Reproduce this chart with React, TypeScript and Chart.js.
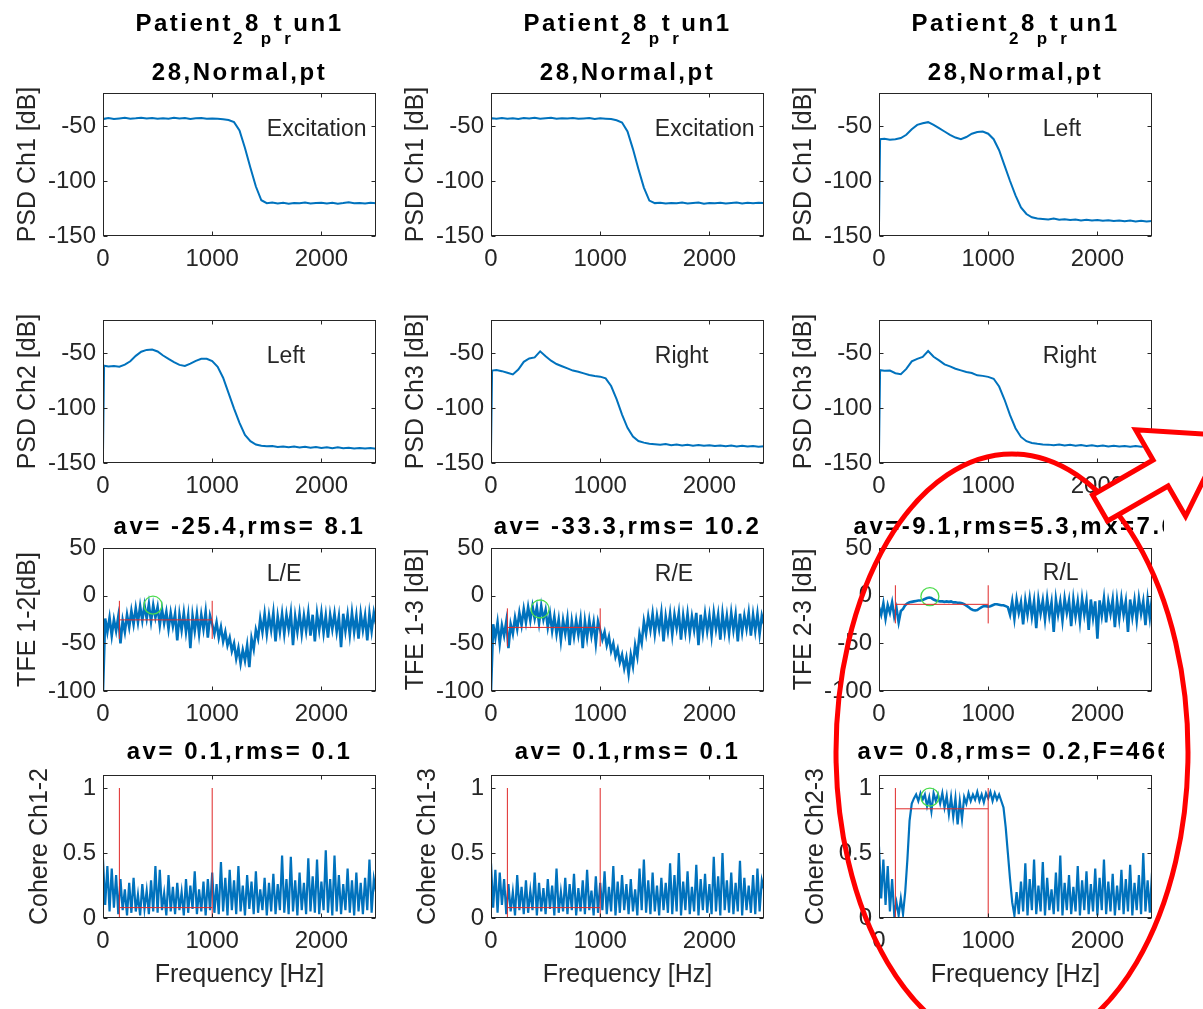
import React, { useEffect, useRef } from "react";
import { Chart, registerables } from "chart.js";

Chart.register(...registerables);

// ---------------- data ----------------
const PSD_FREQ = [0, 10, 50, 100, 150, 200, 250, 300, 350, 400, 450, 500, 550, 600, 650, 700, 750, 800, 850, 900, 950, 1000,
  1050, 1100, 1150, 1200, 1250, 1300, 1350, 1400, 1450, 1500,
  1550, 1600, 1650, 1700, 1750, 1800, 1850, 1900, 1950, 2000, 2050, 2100, 2150, 2200, 2250, 2300, 2350, 2400, 2450, 2500];

const NOISE_FREQ = [0, 20, 40, 60, 80, 100, 120, 140, 160, 180, 200, 220, 240, 260, 280, 300, 320, 340, 360, 380,
  400, 420, 440, 460, 480, 500, 520, 540, 560, 580, 600, 620, 640, 660, 680, 700, 720, 740, 760, 780,
  800, 820, 840, 860, 880, 900, 920, 940, 960, 980, 1000, 1020, 1040, 1060, 1080, 1100, 1120, 1140, 1160, 1180,
  1200, 1220, 1240, 1260, 1280, 1300, 1320, 1340, 1360, 1380, 1400, 1420, 1440, 1460, 1480, 1500, 1520, 1540, 1560, 1580,
  1600, 1620, 1640, 1660, 1680, 1700, 1720, 1740, 1760, 1780, 1800, 1820, 1840, 1860, 1880, 1900, 1920, 1940, 1960, 1980,
  2000, 2020, 2040, 2060, 2080, 2100, 2120, 2140, 2160, 2180, 2200, 2220, 2240, 2260, 2280, 2300, 2320, 2340, 2360, 2380,
  2400, 2420, 2440, 2460, 2480, 2500];

const PSD_EXCITATION_A = [-43, -43.5, -42.8, -43.6, -43.1, -42.6, -43.4, -43.0, -42.4, -43.2, -42.7, -43.5, -42.9, -43.3, -42.5, -43.1, -42.8, -43.6, -43.0, -42.7, -43.4, -43.1,
  -43.5, -43.9, -44.6, -46.5, -54, -70, -88, -105, -117.5, -120.2,
  -119.6, -120.4, -119.8, -120.6, -119.9, -120.3, -119.5, -120.5, -120.0, -119.7, -120.4, -119.8, -120.6, -120.1, -119.4, -120.3, -119.9, -120.5, -119.8, -120.2];

const PSD_EXCITATION_B = [-43.2, -42.9, -43.5, -42.7, -43.3, -42.9, -43.6, -42.8, -43.2, -42.5, -43.4, -43.0, -42.6, -43.5, -42.9, -43.2, -42.7, -43.4, -43.1, -42.8, -43.6, -43.0,
  -43.3, -43.7, -44.8, -46.8, -55, -71, -89, -106, -117.8, -120.1,
  -119.7, -120.5, -119.9, -120.3, -119.6, -120.4, -120.0, -119.5, -120.6, -119.9, -120.2, -119.7, -120.5, -120.0, -119.6, -120.4, -119.8, -120.3, -119.7, -120.1];

const PSD_LEFT_A = [-140, -62, -61.5, -62.5, -62, -61, -58, -53, -49, -47.5, -46.5, -49, -52, -55, -58, -60.5, -62, -60, -57, -55.5, -55, -57,
  -62, -72, -86, -100, -113, -124, -130, -133, -134, -134.5,
  -135, -134.2, -135.3, -134.8, -135.5, -135, -135.8, -135.2, -136, -135.4, -136.2, -135.6, -136.4, -135.9, -136.5, -136, -136.7, -136.2, -136.8, -136.4];

const PSD_LEFT_B = [-140, -61.5, -62.3, -61.8, -62.4, -60.6, -57.5, -52.6, -48.8, -47.2, -46.8, -48.6, -52.3, -55.4, -58.2, -60.8, -61.7, -59.6, -57.2, -55.2, -55.3, -57.4,
  -62.5, -72.5, -86.5, -100.5, -113.5, -124.5, -130.2, -133.2, -134.3, -134.8,
  -134.6, -135.4, -134.9, -135.6, -135.1, -135.9, -135.3, -136.1, -135.5, -136.3, -135.7, -136.5, -135.8, -136.6, -136.1, -136.8, -136.3, -136.9, -136.4, -137];

const PSD_RIGHT_A = [-140, -66, -65.5, -66.5, -68, -69.5, -65, -58, -55, -54, -48.5, -53, -57, -60, -62, -64, -66, -67, -68.5, -70, -71, -71.5,
  -73, -80, -92, -106, -118, -126, -130, -131.5, -132.5, -133,
  -133.5, -132.8, -133.8, -133.2, -134, -133.4, -134.2, -133.6, -134.4, -133.8, -134.6, -134, -134.8, -134.2, -135, -134.4, -135.1, -134.5, -135.2, -134.8];

const PSD_RIGHT_B = [-140, -65.6, -66.2, -66, -68.4, -69.2, -64.5, -57.6, -55.3, -53.6, -48.2, -53.4, -56.7, -60.3, -62.2, -64.3, -65.8, -67.3, -68.2, -70.3, -70.8, -71.7,
  -73.4, -80.5, -92.5, -106.5, -118.4, -126.3, -130.2, -131.8, -132.6, -133.2,
  -133.3, -133.9, -133.1, -134.1, -133.5, -134.3, -133.7, -134.5, -133.9, -134.7, -134.1, -134.9, -134.3, -135.1, -134.5, -135.2, -134.6, -135.3, -134.7, -135];

const TFE_12 = [-100, -24, -38, -23, -42, -25, -37, -22, -50, -26,
  -38, -20, -33, -16, -30, -13, -28, -11, -26, -10,
  -24, -9, -27, -10, -23, -12, -31, -14, -29, -17,
  -35, -18, -32, -19, -47, -20, -36, -18, -38, -21,
  -55, -21, -37, -19, -40, -20, -35, -17, -44, -21,
  -30, -40, -28, -44, -33, -48, -38, -52, -44, -58,
  -50, -66, -55, -71, -57, -68, -52, -75, -45, -56,
  -36, -45, -24, -38, -19, -40, -21, -36, -18, -48,
  -22, -38, -19, -40, -20, -35, -18, -52, -22, -38,
  -19, -40, -21, -37, -18, -42, -20, -48, -19, -36,
  -18, -39, -21, -44, -20, -35, -19, -38, -22, -54,
  -19, -37, -20, -41, -18, -38, -21, -45, -19, -36,
  -21, -47, -19, -37, -18, -30];

const TFE_13 = [-100, -30, -44, -28, -50, -31, -42, -27, -55, -30,
  -40, -23, -35, -18, -31, -14, -28, -12, -26, -11,
  -24, -12, -29, -11, -25, -15, -33, -19, -37, -22,
  -40, -25, -47, -26, -40, -24, -52, -27, -43, -26,
  -41, -25, -55, -27, -44, -26, -42, -28, -50, -27,
  -36, -46, -38, -52, -43, -58, -50, -64, -56, -70,
  -62, -76, -65, -82, -62, -74, -52, -64, -40, -50,
  -27, -40, -22, -36, -19, -40, -21, -35, -18, -48,
  -22, -37, -19, -41, -20, -34, -18, -46, -21, -38,
  -19, -40, -22, -36, -18, -52, -20, -39, -19, -37,
  -21, -42, -18, -35, -20, -46, -19, -38, -21, -40,
  -18, -36, -20, -48, -19, -38, -21, -35, -18, -42,
  -20, -37, -19, -40, -21, -30];

const TFE_23 = [-12, -20, -8, -24, -10, -18, -7, -22, -13, -28,
  -16, -14, -10, -8, -7, -6.5, -6, -5.5, -5, -5,
  -4.5, -3.5, -2.5, -2, -2.5, -4, -5, -5.5, -6, -6,
  -6.5, -6, -6.5, -6, -7, -7, -7.5, -7.5, -8, -9,
  -10.5, -12, -14, -15, -15.5, -15, -13.5, -12, -11, -11,
  -11.5, -11, -10, -9, -9, -9.5, -10, -10, -11, -12,
  -20, -6, -24, -4, -18, -7, -30, -5, -20, -3,
  -22, -6, -34, -4, -19, -5, -25, -3, -21, -7,
  -38, -4, -20, -6, -26, -3, -18, -5, -32, -4,
  -22, -6, -27, -3, -20, -5, -36, -4, -23, -6,
  -45, -5, -21, -3, -28, -6, -19, -4, -33, -5,
  -24, -3, -20, -6, -38, -4, -22, -5, -26, -3,
  -19, -6, -31, -4, -23, -2];

const COH_12 = [0.45, 0.1, 0.4, 0.05, 0.38, 0.08, 0.33, 0.03, 0.3, 0.06,
  0.22, 0.02, 0.27, 0.04, 0.31, 0.05, 0.18, 0.02, 0.26, 0.07,
  0.21, 0.03, 0.29, 0.05, 0.4, 0.04, 0.37, 0.06, 0.19, 0.02,
  0.33, 0.05, 0.24, 0.03, 0.27, 0.06, 0.2, 0.02, 0.3, 0.04,
  0.25, 0.07, 0.36, 0.03, 0.22, 0.05, 0.28, 0.02, 0.3, 0.06,
  0.35, 0.04, 0.26, 0.03, 0.43, 0.05, 0.31, 0.02, 0.37, 0.06,
  0.29, 0.03, 0.4, 0.05, 0.25, 0.02, 0.33, 0.07, 0.28, 0.03,
  0.36, 0.04, 0.22, 0.06, 0.31, 0.02, 0.27, 0.05, 0.34, 0.03,
  0.26, 0.06, 0.48, 0.04, 0.3, 0.03, 0.47, 0.05, 0.29, 0.02,
  0.35, 0.06, 0.27, 0.03, 0.46, 0.05, 0.32, 0.04, 0.45, 0.03,
  0.28, 0.06, 0.52, 0.04, 0.3, 0.02, 0.48, 0.05, 0.33, 0.03,
  0.26, 0.06, 0.38, 0.04, 0.29, 0.02, 0.35, 0.05, 0.27, 0.03,
  0.31, 0.06, 0.45, 0.04, 0.3, 0.2];

const COH_13 = [0.42, 0.08, 0.37, 0.04, 0.35, 0.1, 0.3, 0.03, 0.26, 0.05,
  0.2, 0.02, 0.33, 0.06, 0.24, 0.03, 0.29, 0.04, 0.21, 0.06,
  0.35, 0.02, 0.27, 0.05, 0.23, 0.03, 0.3, 0.07, 0.25, 0.02,
  0.38, 0.04, 0.2, 0.05, 0.31, 0.03, 0.26, 0.06, 0.34, 0.02,
  0.23, 0.05, 0.29, 0.03, 0.37, 0.06, 0.21, 0.02, 0.32, 0.04,
  0.27, 0.06, 0.36, 0.03, 0.24, 0.05, 0.4, 0.02, 0.28, 0.04,
  0.33, 0.06, 0.26, 0.03, 0.3, 0.05, 0.22, 0.02, 0.38, 0.06,
  0.45, 0.04, 0.29, 0.03, 0.35, 0.05, 0.25, 0.02, 0.31, 0.06,
  0.27, 0.04, 0.42, 0.03, 0.33, 0.05, 0.5, 0.02, 0.28, 0.06,
  0.36, 0.03, 0.24, 0.05, 0.41, 0.02, 0.3, 0.06, 0.34, 0.04,
  0.26, 0.03, 0.47, 0.05, 0.32, 0.02, 0.5, 0.06, 0.29, 0.04,
  0.35, 0.03, 0.27, 0.05, 0.44, 0.02, 0.31, 0.06, 0.25, 0.04,
  0.33, 0.03, 0.38, 0.05, 0.29, 0.22];

const COH_23 = [0.55, 0.15, 0.45, 0.1, 0.4, 0.05, 0.3, 0.02, 0.12, 0.02,
  0.15, 0.03, 0.2, 0.45, 0.75, 0.88, 0.92, 0.95, 0.9, 0.96,
  0.91, 0.95, 0.86, 0.93, 0.82, 0.96, 0.9, 0.95, 0.88, 0.96,
  0.85, 0.94, 0.8, 0.93, 0.78, 0.92, 0.72, 0.9, 0.76, 0.93,
  0.88, 0.96, 0.9, 0.95, 0.91, 0.97, 0.9, 0.95, 0.89, 0.96,
  0.92, 0.97, 0.9, 0.96, 0.91, 0.95, 0.9, 0.85, 0.7, 0.5,
  0.3, 0.12, 0.02, 0.2, 0.03, 0.28, 0.05, 0.42, 0.02, 0.3,
  0.06, 0.45, 0.03, 0.25, 0.05, 0.43, 0.02, 0.31, 0.06, 0.22,
  0.03, 0.35, 0.05, 0.48, 0.02, 0.27, 0.06, 0.33, 0.03, 0.24,
  0.05, 0.4, 0.02, 0.29, 0.06, 0.36, 0.03, 0.26, 0.05, 0.38,
  0.02, 0.31, 0.06, 0.45, 0.03, 0.28, 0.05, 0.34, 0.02, 0.25,
  0.06, 0.37, 0.03, 0.3, 0.05, 0.41, 0.02, 0.27, 0.06, 0.33,
  0.03, 0.5, 0.05, 0.29, 0.04, 0.35];

const FREQ_TICKS = [0, 1000, 2000];
const PSD_TICKS = [-150, -100, -50];
const TFE_TICKS = [-100, -50, 0, 50];
const COH_TICKS = [0, 0.5, 1];

const BAND_EDGES = [150, 1000];
const TFE_AV = [-25.4, -33.3, -9.1];
const TFE_HALF_SPAN = 20;
const COH_AV_LINE = [0.08, 0.08, 0.84];
const TFE_PEAK_F = [458, 449, 466];
const TFE_PEAK_V = [-10, -14, -1];
const COH_PEAK_F = [466];
const COH_PEAK_V = [0.93];

const PATIENT_PARTS: [string, boolean][] = [["Patient", false], ["2", true], ["8", false], ["p", true], ["t", false], ["r", true], ["un1", false]];
const PATIENT_LINE2 = "28,Normal,pt";
const TFE_TITLES = ["av= -25.4,rms= 8.1", "av= -33.3,rms= 10.2", "av=-9.1,rms=5.3,mx=7.6"];
const COH_TITLES = ["av= 0.1,rms= 0.1", "av= 0.1,rms= 0.1", "av= 0.8,rms= 0.2,F=466"];
const Y_LABELS = [
  ["PSD Ch1 [dB]", "PSD Ch1 [dB]", "PSD Ch1 [dB]"],
  ["PSD Ch2 [dB]", "PSD Ch3 [dB]", "PSD Ch3 [dB]"],
  ["TFE 1-2[dB]", "TFE 1-3 [dB]", "TFE 2-3 [dB]"],
  ["Cohere Ch1-2", "Cohere Ch1-3", "Cohere Ch2-3"],
];
const NOTES = [["Excitation", "Excitation", "Left"], ["Left", "Right", "Right"], ["L/E", "R/E", "R/L"]];
const NOTE_Y = [[-53, -53, -53], [-53, -53, -53], [22, 22, 23]];
const NOTE_X = 1500;
const X_LABEL = "Frequency [Hz]";

// ---------------- style / layout ----------------
const FONT = '"Liberation Sans", Arial, Helvetica, sans-serif';
const BLUE = "#0072BD";
const RED = "#e02828";
const GREEN = "#4ddc4d";
const AXIS = "#262626";
const COL_LEFT = [103, 491, 879];
const ROW_TOP = [93, 320, 548, 775];
const PLOT_W = 273;
const PLOT_H = 143;

type Kind = "psd" | "tfe" | "coh";
interface Panel {
  row: number;
  col: number;
  kind: Kind;
  xs: number[];
  ys: number[];
}

const PANELS: Panel[] = [
  { row: 0, col: 0, kind: "psd", xs: PSD_FREQ, ys: PSD_EXCITATION_A },
  { row: 0, col: 1, kind: "psd", xs: PSD_FREQ, ys: PSD_EXCITATION_B },
  { row: 0, col: 2, kind: "psd", xs: PSD_FREQ, ys: PSD_LEFT_A },
  { row: 1, col: 0, kind: "psd", xs: PSD_FREQ, ys: PSD_LEFT_B },
  { row: 1, col: 1, kind: "psd", xs: PSD_FREQ, ys: PSD_RIGHT_A },
  { row: 1, col: 2, kind: "psd", xs: PSD_FREQ, ys: PSD_RIGHT_B },
  { row: 2, col: 0, kind: "tfe", xs: NOISE_FREQ, ys: TFE_12 },
  { row: 2, col: 1, kind: "tfe", xs: NOISE_FREQ, ys: TFE_13 },
  { row: 2, col: 2, kind: "tfe", xs: NOISE_FREQ, ys: TFE_23 },
  { row: 3, col: 0, kind: "coh", xs: NOISE_FREQ, ys: COH_12 },
  { row: 3, col: 1, kind: "coh", xs: NOISE_FREQ, ys: COH_13 },
  { row: 3, col: 2, kind: "coh", xs: NOISE_FREQ, ys: COH_23 },
];

const Y_RANGE: Record<Kind, { min: number; max: number; ticks: number[] }> = {
  psd: { min: -150, max: -20, ticks: PSD_TICKS },
  tfe: { min: -100, max: 50, ticks: TFE_TICKS },
  coh: { min: 0, max: 1.1, ticks: COH_TICKS },
};

const LINE_WIDTH: Record<Kind, number> = { psd: 2, tfe: 2.6, coh: 2.2 };

function geom(row: number, col: number) {
  const Lw = row === 3 ? 78 : 90;
  const T = row === 0 ? 92 : 50;
  const Bh = row === 3 ? 72 : 45;
  const R = 12;
  return {
    left: COL_LEFT[col] - Lw,
    top: ROW_TOP[row] - T,
    width: Lw + PLOT_W + R,
    height: T + PLOT_H + Bh,
    Lw, T, Bh, R,
  };
}

function seg(xs: number[], ys: number[]) {
  return {
    data: xs.map((x, i) => ({ x, y: ys[i] })),
    borderColor: RED,
    borderWidth: 1,
    pointRadius: 0,
    order: 0,
  };
}

function buildConfig(p: Panel): any {
  const g = geom(p.row, p.col);
  const yr = Y_RANGE[p.kind];
  const datasets: any[] = [];
  if (p.kind !== "psd") {
    const av = p.kind === "tfe" ? TFE_AV[p.col] : COH_AV_LINE[p.col];
    const lo = p.kind === "tfe" ? av - TFE_HALF_SPAN : 0;
    const hi = p.kind === "tfe" ? av + TFE_HALF_SPAN : 1;
    datasets.push(seg([BAND_EDGES[0], BAND_EDGES[0]], [lo, hi]));
    datasets.push(seg([BAND_EDGES[1], BAND_EDGES[1]], [lo, hi]));
    datasets.push(seg([BAND_EDGES[0], BAND_EDGES[1]], [av, av]));
    let peak: { x: number; y: number } | null = null;
    if (p.kind === "tfe") peak = { x: TFE_PEAK_F[p.col], y: TFE_PEAK_V[p.col] };
    if (p.kind === "coh" && p.col === 2) peak = { x: COH_PEAK_F[0], y: COH_PEAK_V[0] };
    if (peak) {
      datasets.push({
        data: [peak],
        showLine: false,
        pointRadius: 9,
        pointStyle: "circle",
        pointBorderColor: GREEN,
        pointBackgroundColor: "rgba(0,0,0,0)",
        pointBorderWidth: 1.3,
        order: 0,
      });
    }
  }
  datasets.push({
    data: p.xs.map((x, i) => ({ x, y: p.ys[i] })),
    borderColor: BLUE,
    borderWidth: LINE_WIDTH[p.kind],
    pointRadius: 0,
    tension: 0,
    order: 1,
  });

  const deco = {
    id: "deco" + p.row + p.col,
    afterDraw(chart: any) {
      const { ctx, chartArea: a } = chart;
      const xs = chart.scales.x;
      const ys = chart.scales.y;
      ctx.save();
      const l = Math.round(a.left) + 0.5;
      const t = Math.round(a.top) + 0.5;
      const r = Math.round(a.right) - 0.5;
      const b = Math.round(a.bottom) - 0.5;
      ctx.strokeStyle = AXIS;
      ctx.lineWidth = 1;
      ctx.strokeRect(l, t, r - l, b - t);
      ctx.beginPath();
      for (const v of FREQ_TICKS) {
        const px = Math.round(xs.getPixelForValue(v)) + 0.5;
        ctx.moveTo(px, b); ctx.lineTo(px, b - 4);
        ctx.moveTo(px, t); ctx.lineTo(px, t + 4);
      }
      for (const v of yr.ticks) {
        const py = Math.round(ys.getPixelForValue(v)) + 0.5;
        ctx.moveTo(l, py); ctx.lineTo(l + 4, py);
        ctx.moveTo(r, py); ctx.lineTo(r - 4, py);
      }
      ctx.stroke();
      if (p.row < 3) {
        ctx.font = `23px ${FONT}`;
        ctx.fillStyle = AXIS;
        ctx.textAlign = "left";
        ctx.textBaseline = "middle";
        ctx.fillText(NOTES[p.row][p.col], xs.getPixelForValue(NOTE_X), ys.getPixelForValue(NOTE_Y[p.row][p.col]));
      }
      const cx = (a.left + a.right) / 2;
      ctx.fillStyle = "#000";
      ctx.textBaseline = "middle";
      ctx.textAlign = "left";
      (ctx as any).letterSpacing = "2.5px";
      const mainFont = `bold 24px ${FONT}`;
      const subFont = `bold 17px ${FONT}`;
      const centered = (txt: string, y: number) => {
        ctx.font = mainFont;
        const w = ctx.measureText(txt).width;
        ctx.fillText(txt, cx - w / 2, y);
      };
      if (p.row === 0) {
        const widths = PATIENT_PARTS.map(([s, sub]) => {
          ctx.font = sub ? subFont : mainFont;
          return ctx.measureText(s).width;
        });
        const total = widths.reduce((s, w) => s + w, 0);
        let x = cx - total / 2;
        const yMain = a.top - 69;
        PATIENT_PARTS.forEach(([s, sub], i) => {
          ctx.font = sub ? subFont : mainFont;
          ctx.fillText(s, x, sub ? yMain + 15 : yMain);
          x += widths[i];
        });
        centered(PATIENT_LINE2, a.top - 20);
      } else if (p.row === 2) {
        centered(TFE_TITLES[p.col], a.top - 21);
      } else if (p.row === 3) {
        centered(COH_TITLES[p.col], a.top - 23);
      }
      (ctx as any).letterSpacing = "0px";
      ctx.restore();
    },
  };

  return {
    type: "line",
    data: { datasets },
    plugins: [deco],
    options: {
      animation: false,
      responsive: false,
      events: [],
      layout: { padding: { left: 0, top: g.T, right: g.R, bottom: 0 } },
      plugins: { legend: { display: false }, tooltip: { enabled: false }, title: { display: false } },
      scales: {
        x: {
          type: "linear",
          min: 0,
          max: 2500,
          grid: { display: false, drawTicks: false },
          border: { display: false },
          afterBuildTicks: (s: any) => { s.ticks = FREQ_TICKS.map((v) => ({ value: v })); },
          afterFit: (s: any) => { s.height = g.Bh; },
          ticks: {
            font: { family: FONT, size: 24 },
            color: AXIS,
            padding: 9,
            maxRotation: 0,
            autoSkip: false,
            callback: (v: any) => String(v),
          },
          title: {
            display: p.row === 3,
            text: X_LABEL,
            font: { family: FONT, size: 25 },
            color: AXIS,
            padding: 0,
          },
        },
        y: {
          type: "linear",
          min: yr.min,
          max: yr.max,
          grid: { display: false, drawTicks: false },
          border: { display: false },
          afterBuildTicks: (s: any) => { s.ticks = yr.ticks.map((v) => ({ value: v })); },
          afterFit: (s: any) => { s.width = g.Lw; },
          ticks: {
            font: { family: FONT, size: 24 },
            color: AXIS,
            padding: 7,
            autoSkip: false,
            callback: (v: any) => String(v),
          },
          title: {
            display: true,
            text: Y_LABELS[p.row][p.col],
            font: { family: FONT, size: 25 },
            color: AXIS,
            padding: 0,
          },
        },
      },
    },
  };
}

function arrowPoints() {
  const bx = 1100, by = 508;
  const ang = (30 * Math.PI) / 180;
  const ux = Math.cos(ang), uy = -Math.sin(ang);
  const nx = Math.sin(ang), ny = Math.cos(ang);
  const sw = 15, sl = 70, hw = 50, hl = 75;
  const hx = bx + sl * ux, hy = by + sl * uy;
  const pts = [
    [bx - sw * nx, by - sw * ny],
    [hx - sw * nx, hy - sw * ny],
    [hx - hw * nx, hy - hw * ny],
    [hx + hl * ux, hy + hl * uy],
    [hx + hw * nx, hy + hw * ny],
    [hx + sw * nx, hy + sw * ny],
    [bx + sw * nx, by + sw * ny],
  ];
  return pts.map(([x, y]) => `${x.toFixed(1)},${y.toFixed(1)}`).join(" ");
}

export default function App() {
  const refs = useRef<(HTMLCanvasElement | null)[]>([]);
  useEffect(() => {
    const charts = PANELS.map((p, i) => new Chart(refs.current[i] as HTMLCanvasElement, buildConfig(p)));
    return () => {
      charts.forEach((c) => c.destroy());
    };
  }, []);
  return (
    <div style={{ position: "absolute", left: 0, top: 0, width: 1203, height: 1009, background: "#fff", overflow: "hidden" }}>
      {PANELS.map((p, i) => {
        const g = geom(p.row, p.col);
        return (
          <canvas
            key={i}
            ref={(el) => {
              refs.current[i] = el;
            }}
            width={g.width}
            height={g.height}
            style={{ position: "absolute", left: g.left, top: g.top, width: g.width, height: g.height }}
          />
        );
      })}
      <svg width={1203} height={1009} style={{ position: "absolute", left: 0, top: 0, pointerEvents: "none" }}>
        <ellipse cx={1012} cy={752} rx={176} ry={298} fill="none" stroke="#ff0000" strokeWidth={5} />
        <polygon points={arrowPoints()} fill="#ffffff" stroke="#ff0000" strokeWidth={5} strokeLinejoin="miter" />
      </svg>
    </div>
  );
}
